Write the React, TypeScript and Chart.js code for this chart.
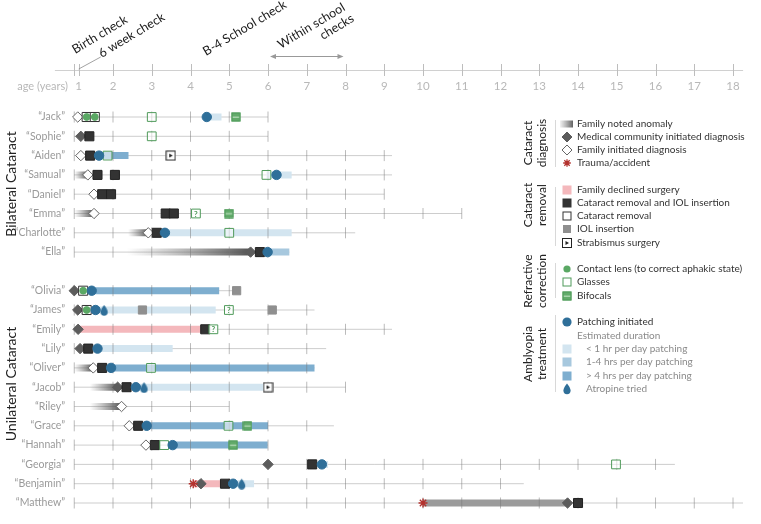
import React, { useEffect, useRef } from 'react';
import { Chart, registerables } from 'chart.js';

Chart.register(...registerables);

const FONT = 'Lato, "Open Sans", "DejaVu Sans", sans-serif';

// ---------------- categories ----------------
const bilateralNames = ['Jack', 'Sophie', 'Aiden', 'Samual', 'Daniel', 'Emma', 'Charlotte', 'Ella'];
const unilateralNames = ['Olivia', 'James', 'Emily', 'Lily', 'Oliver', 'Jacob', 'Riley', 'Grace', 'Hannah', 'Georgia', 'Benjamin', 'Matthew'];
// age (years) at which each child's follow-up line ends
const bilateralFollowUpEnd = [6, 6, 9.2, 9.2, 9, 11, 8.25, 6.55];
const unilateralFollowUpEnd = [5.3, 7.2, 9.2, 7.5, 7.2, 8, 5, 7.7, 6, 16.5, 12.6, 18.26];
const ageTicks = [1, 2, 3, 4, 5, 6, 7, 8, 9, 10, 11, 12, 13, 14, 15, 16, 17, 18];
const sixWeekCheckAge = 1.115;
const schoolChecksRange = [6, 8];

// ---------------- events: [child, age] or [child, startAge, endAge] ----------------
const familyNotedAnomaly: [string, number, number][] = [
  ['Samual', 1.0, 1.35], ['Emma', 1.0, 1.5], ['Charlotte', 2.39, 2.91], ['Ella', 2.36, 5.55],
  ['Oliver', 1.0, 1.49], ['Jacob', 1.4, 2.12], ['Riley', 1.4, 2.22],
];
const medicalDiagnosis: [string, number][] = [
  ['Sophie', 1.17], ['Ella', 5.55], ['Olivia', 1.0], ['James', 1.09], ['Emily', 1.1], ['Lily', 1.15],
  ['Jacob', 2.12], ['Georgia', 6.0], ['Benjamin', 4.27], ['Matthew', 13.73],
];
const familyDiagnosis: [string, number][] = [
  ['Jack', 1.09], ['Aiden', 1.17], ['Samual', 1.35], ['Daniel', 1.51], ['Emma', 1.51], ['Charlotte', 2.91],
  ['Oliver', 1.49], ['Riley', 2.22], ['Grace', 2.42], ['Hannah', 2.85],
];
const traumaAccident: [string, number][] = [['Benjamin', 4.07], ['Matthew', 10.0]];
const untreatedPeriod: [string, number, number][] = [['Matthew', 10.0, 13.73]];
const familyDeclinedSurgery: [string, number, number][] = [['Emily', 1.1, 4.3], ['Benjamin', 4.07, 4.89]];
const removalWithIOL: [string, number][] = [
  ['Sophie', 1.39], ['Aiden', 1.41], ['Samual', 1.6], ['Samual', 2.05], ['Daniel', 1.72], ['Daniel', 1.95],
  ['Emma', 3.36], ['Emma', 3.57], ['Charlotte', 3.13], ['Ella', 5.79], ['Emily', 4.38], ['Lily', 1.36],
  ['Oliver', 1.72], ['Jacob', 2.35], ['Grace', 2.65], ['Hannah', 3.08], ['Georgia', 7.14], ['Benjamin', 4.89],
  ['Matthew', 14.0],
];
const cataractRemoval: [string, number][] = [['Jack', 1.32], ['Jack', 1.53], ['Olivia', 1.23], ['James', 1.32]];
const iolInsertion: [string, number][] = [['Olivia', 5.19], ['James', 2.76], ['James', 6.11]];
const strabismusSurgery: [string, number][] = [['Aiden', 3.49], ['Jacob', 6.0]];
const contactLens: [string, number][] = [['Jack', 1.32], ['Jack', 1.53], ['Olivia', 1.23], ['James', 1.32]];
const glasses: [string, number][] = [
  ['Jack', 3.0], ['Sophie', 3.0], ['Aiden', 1.86], ['Samual', 5.96], ['Charlotte', 5.0], ['Oliver', 2.98],
  ['Grace', 4.98], ['Hannah', 3.32], ['Georgia', 14.98],
];
const glassesUncertain: [string, number][] = [['Emma', 4.14], ['James', 4.99], ['Emily', 4.59]];
const bifocals: [string, number][] = [['Jack', 5.17], ['Emma', 4.99], ['Grace', 5.47], ['Hannah', 5.1]];
const patchingInitiated: [string, number][] = [
  ['Jack', 4.42], ['Aiden', 1.64], ['Samual', 6.22], ['Charlotte', 3.34], ['Ella', 5.99], ['Olivia', 1.45],
  ['James', 1.55], ['Lily', 1.6], ['Oliver', 1.95], ['Jacob', 2.59], ['Grace', 2.87], ['Hannah', 3.54],
  ['Georgia', 7.39], ['Benjamin', 5.1],
];
const atropineTried: [string, number][] = [['James', 1.77], ['Jacob', 2.8], ['Benjamin', 5.32]];
const patchingUnder1h: [string, number, number][] = [
  ['Jack', 4.42, 4.8], ['Samual', 5.96, 6.61], ['Charlotte', 3.34, 6.61], ['James', 1.55, 4.65],
  ['Lily', 1.6, 3.54], ['Jacob', 2.59, 6.0], ['Georgia', 7.39, 7.55], ['Benjamin', 5.1, 5.64],
];
const patching1to4h: [string, number, number][] = [['Ella', 5.99, 6.55]];
const patchingOver4h: [string, number, number][] = [
  ['Aiden', 1.64, 2.4], ['Olivia', 1.45, 4.74], ['Oliver', 1.95, 7.2], ['Grace', 2.87, 6.0], ['Hannah', 3.54, 5.99],
];

// ---------------- legend texts ----------------
const legendTitles = [['Cataract', 'diagnosis'], ['Cataract', 'removal'], ['Refractive', 'correction'], ['Amblyopia', 'treatment']];
const legendItems = [
  ['Family noted anomaly', 'Medical community initiated diagnosis', 'Family initiated diagnosis', 'Trauma/accident'],
  ['Family declined surgery', 'Cataract removal and IOL insertion', 'Cataract removal', 'IOL insertion', 'Strabismus surgery'],
  ['Contact lens (to correct aphakic state)', 'Glasses', 'Bifocals'],
  ['Patching initiated', 'Estimated duration', '< 1 hr per day patching', '1-4 hrs per day patching', '> 4 hrs per day patching', 'Atropine tried'],
];

// ---------------- colours ----------------
const C = {
  row: 'rgba(136,136,136,0.42)',
  tick: 'rgba(120,120,120,0.5)',
  dark: '#333333',
  diamond: '#5c5c5c',
  blue: '#2f6f99',
  light: '#d3e5f0',
  medium: '#a7c8de',
  deep: '#7eaecf',
  pink: '#f4b8bc',
  green: '#5aa864',
  greenStroke: '#4f9a5a',
  iol: '#8f8f8f',
  red: '#b3322e',
  untreated: '#9b9b9b',
};

const slotOf = (n: string) => {
  const b = bilateralNames.indexOf(n);
  return b >= 0 ? b : bilateralNames.length + 1 + unilateralNames.indexOf(n);
};
const pts = (list: [string, number][]) => list.map(([n, a]) => ({ x: a, y: slotOf(n) }));
const segs = (list: [string, number, number][]) =>
  list.flatMap(([n, s, e]) => [{ x: s, y: slotOf(n) }, { x: e, y: slotOf(n) }, { x: e, y: NaN }]);

function makeCanvas(w: number, h: number, draw: (c: CanvasRenderingContext2D) => void) {
  const cv = document.createElement('canvas');
  cv.width = w;
  cv.height = h;
  const c = cv.getContext('2d')!;
  draw(c);
  return cv;
}
function dropPath(c: CanvasRenderingContext2D, x: number, y: number) {
  c.beginPath();
  c.moveTo(x, y - 5.5);
  c.quadraticCurveTo(x + 3.6, y - 1, x + 3.6, y + 1.6);
  c.arc(x, y + 1.6, 3.6, 0, Math.PI);
  c.quadraticCurveTo(x - 3.6, y - 1, x, y - 5.5);
  c.closePath();
}
function strabPath(c: CanvasRenderingContext2D, x: number, y: number) {
  c.fillStyle = '#fff';
  c.fillRect(x - 5, y - 5, 10, 10);
  c.strokeStyle = '#222';
  c.lineWidth = 1;
  c.strokeRect(x - 4.5, y - 4.5, 9, 9);
  c.fillStyle = '#222';
  c.beginPath();
  c.moveTo(x - 1.5, y - 2);
  c.lineTo(x + 2, y);
  c.lineTo(x - 1.5, y + 2);
  c.closePath();
  c.fill();
}
function bifocalPath(c: CanvasRenderingContext2D, x: number, y: number) {
  c.fillStyle = '#63ab6b';
  c.fillRect(x - 4.5, y - 4.5, 9, 9);
  c.fillStyle = '#a8d3ab';
  c.fillRect(x - 3.5, y - 0.5, 7, 1.5);
  c.strokeStyle = C.greenStroke;
  c.lineWidth = 1;
  c.strokeRect(x - 4, y - 4, 8, 8);
}

const overlayPlugin = {
  id: 'overlay',
  afterDatasetsDraw(chart: any) {
    const ctx = chart.ctx;
    chart.data.datasets.forEach((ds: any, i: number) => {
      if (!ds.questionMark) return;
      const meta = chart.getDatasetMeta(i);
      ctx.save();
      ctx.fillStyle = C.greenStroke;
      ctx.font = `bold 8px ${FONT}`;
      ctx.textAlign = 'center';
      ctx.textBaseline = 'middle';
      meta.data.forEach((p: any) => ctx.fillText('?', p.x, p.y + 0.5));
      ctx.restore();
    });
  },
  afterDraw(chart: any) {
    const ctx: CanvasRenderingContext2D = chart.ctx;
    const xs = chart.scales.x;
    const ys = chart.scales.y;
    const area = chart.chartArea;
    ctx.save();

    // ---- top age axis ----
    const axisY = 70;
    ctx.strokeStyle = '#d0d0d0';
    ctx.lineWidth = 1;
    ctx.beginPath();
    ctx.moveTo(area.left, axisY + 0.5);
    ctx.lineTo(area.right, axisY + 0.5);
    ctx.stroke();
    ctx.strokeStyle = '#bdbdbd';
    ctx.beginPath();
    [...ageTicks, sixWeekCheckAge].forEach((a) => {
      const px = Math.round(xs.getPixelForValue(a)) + 0.5;
      ctx.moveTo(px, axisY - 6);
      ctx.lineTo(px, axisY + 6);
    });
    ctx.stroke();
    ctx.fillStyle = '#b8b8b8';
    ctx.font = `11.5px ${FONT}`;
    ctx.textAlign = 'center';
    ctx.textBaseline = 'middle';
    ageTicks.forEach((a) => {
      const px = xs.getPixelForValue(a === 1 ? sixWeekCheckAge : a);
      ctx.fillText(String(a), px, 86);
    });
    ctx.textAlign = 'right';
    ctx.font = `11px ${FONT}`;
    ctx.fillText('age (years)', 68, 86);

    // ---- check annotations ----
    const ang = (-31 * Math.PI) / 180;
    ctx.fillStyle = '#1a1a1a';
    ctx.font = `12.5px ${FONT}`;
    ctx.textAlign = 'left';
    ctx.textBaseline = 'alphabetic';
    const rotText = (t: string, x: number, y: number) => {
      ctx.save();
      ctx.translate(x, y);
      ctx.rotate(ang);
      ctx.fillText(t, 0, 0);
      ctx.restore();
    };
    rotText('Birth check', xs.getPixelForValue(1) + 1, 54);
    rotText('6 week check', xs.getPixelForValue(sixWeekCheckAge) + 23, 58);
    rotText('B-4 School check', xs.getPixelForValue(4.4), 56);
    ctx.save();
    ctx.translate(xs.getPixelForValue(6.33), 49);
    ctx.rotate(ang);
    const w1 = ctx.measureText('Within school').width;
    ctx.fillText('Within school', 0, 0);
    ctx.textAlign = 'right';
    ctx.fillText('checks', w1 + 2, 14);
    ctx.restore();
    // leader from six-week tick
    ctx.strokeStyle = '#8a8a8a';
    ctx.lineWidth = 0.8;
    ctx.beginPath();
    ctx.moveTo(xs.getPixelForValue(sixWeekCheckAge), axisY - 1);
    ctx.lineTo(xs.getPixelForValue(sixWeekCheckAge) + 22, 57);
    ctx.stroke();
    // school checks arrow
    const ax1 = xs.getPixelForValue(schoolChecksRange[0]) + 2;
    const ax2 = xs.getPixelForValue(schoolChecksRange[1]) - 2;
    const ay = 56.5;
    ctx.strokeStyle = '#999';
    ctx.fillStyle = '#999';
    ctx.lineWidth = 1;
    ctx.beginPath();
    ctx.moveTo(ax1 + 3, ay);
    ctx.lineTo(ax2 - 3, ay);
    ctx.stroke();
    ctx.beginPath();
    ctx.moveTo(ax1, ay);
    ctx.lineTo(ax1 + 6, ay - 2.5);
    ctx.lineTo(ax1 + 6, ay + 2.5);
    ctx.closePath();
    ctx.moveTo(ax2, ay);
    ctx.lineTo(ax2 - 6, ay - 2.5);
    ctx.lineTo(ax2 - 6, ay + 2.5);
    ctx.closePath();
    ctx.fill();

    // ---- row names ----
    ctx.fillStyle = '#9a9a9a';
    ctx.font = `10.5px ${FONT}`;
    ctx.textAlign = 'right';
    ctx.textBaseline = 'middle';
    [...bilateralNames, ...unilateralNames].forEach((n) => {
      ctx.fillText(`\u201C${n}\u201D`, 65, ys.getPixelForValue(slotOf(n)));
    });

    // ---- group labels ----
    ctx.fillStyle = '#222';
    ctx.font = `14px ${FONT}`;
    ctx.textAlign = 'center';
    const vText = (t: string, x: number, y: number) => {
      ctx.save();
      ctx.translate(x, y);
      ctx.rotate(-Math.PI / 2);
      ctx.fillText(t, 0, 0);
      ctx.restore();
    };
    vText('Bilateral Cataract', 11, 184);
    vText('Unilateral Cataract', 11, 384);

    // ---- legend ----
    const groupsLayout = [
      { ty: 143, sep: [120, 167], ys: [124, 137, 150, 163] },
      { ty: 205, sep: [187, 246], ys: [190, 203, 216, 229, 243] },
      { ty: 281, sep: [263, 298], ys: [269, 282, 296] },
      { ty: 354, sep: [315, 392], ys: [322, 336, 349, 362, 376, 389] },
    ];
    const iconX = 567;
    groupsLayout.forEach((g, gi) => {
      ctx.fillStyle = '#222';
      ctx.font = `12px ${FONT}`;
      ctx.textAlign = 'center';
      ctx.textBaseline = 'middle';
      vText(legendTitles[gi][0], 528, g.ty);
      vText(legendTitles[gi][1], 542, g.ty);
      ctx.strokeStyle = '#d8d8d8';
      ctx.lineWidth = 1;
      ctx.beginPath();
      ctx.moveTo(555.5, g.sep[0]);
      ctx.lineTo(555.5, g.sep[1]);
      ctx.stroke();
      g.ys.forEach((y, ii) => {
        const label = legendItems[gi][ii];
        const sub = gi === 3 && ii >= 2;
        ctx.fillStyle = gi === 3 && ii > 0 ? '#8a8a8a' : '#333';
        ctx.font = `10px ${FONT}`;
        ctx.textAlign = 'left';
        ctx.textBaseline = 'middle';
        ctx.fillText(label, sub ? 586 : 577, y);
        drawLegendIcon(ctx, `${gi}-${ii}`, iconX, y);
      });
    });
    ctx.restore();
  },
};

function drawLegendIcon(ctx: CanvasRenderingContext2D, key: string, x: number, y: number) {
  ctx.save();
  const sq = (fill: string | null, stroke: string | null, s = 8) => {
    if (fill) {
      ctx.fillStyle = fill;
      ctx.fillRect(x - s / 2, y - s / 2, s, s);
    }
    if (stroke) {
      ctx.strokeStyle = stroke;
      ctx.lineWidth = 1;
      ctx.strokeRect(x - s / 2 + 0.5, y - s / 2 + 0.5, s - 1, s - 1);
    }
  };
  const dia = (fill: string, stroke: string) => {
    ctx.beginPath();
    ctx.moveTo(x - 5, y);
    ctx.lineTo(x, y - 5);
    ctx.lineTo(x + 5, y);
    ctx.lineTo(x, y + 5);
    ctx.closePath();
    ctx.fillStyle = fill;
    ctx.fill();
    ctx.strokeStyle = stroke;
    ctx.lineWidth = 1;
    ctx.stroke();
  };
  switch (key) {
    case '0-0': {
      const g = ctx.createLinearGradient(x - 7, 0, x + 6, 0);
      g.addColorStop(0, 'rgba(120,120,120,0.1)');
      g.addColorStop(1, 'rgba(90,90,90,0.95)');
      ctx.fillStyle = g;
      ctx.fillRect(x - 7, y - 3.5, 13, 7);
      break;
    }
    case '0-1': dia(C.diamond, C.diamond); break;
    case '0-2': dia('#fff', '#666'); break;
    case '0-3': {
      ctx.strokeStyle = C.red;
      ctx.lineWidth = 1.3;
      ctx.beginPath();
      for (let k = 0; k < 4; k++) {
        const a = (k * Math.PI) / 4;
        ctx.moveTo(x - 3.8 * Math.cos(a), y - 3.8 * Math.sin(a));
        ctx.lineTo(x + 3.8 * Math.cos(a), y + 3.8 * Math.sin(a));
      }
      ctx.stroke();
      break;
    }
    case '1-0': sq(C.pink, null, 9); break;
    case '1-1': sq(C.dark, null, 9); break;
    case '1-2': sq('#fff', '#333', 9); break;
    case '1-3': sq(C.iol, null, 8); break;
    case '1-4': strabPath(ctx, x, y); break;
    case '2-0':
      ctx.fillStyle = C.green;
      ctx.beginPath();
      ctx.arc(x, y, 3.6, 0, Math.PI * 2);
      ctx.fill();
      break;
    case '2-1': sq('#fff', C.greenStroke, 9); break;
    case '2-2': bifocalPath(ctx, x, y); break;
    case '3-0':
      ctx.fillStyle = C.blue;
      ctx.beginPath();
      ctx.arc(x, y, 4.6, 0, Math.PI * 2);
      ctx.fill();
      break;
    case '3-2': sq(C.light, null, 9); break;
    case '3-3': sq(C.medium, null, 9); break;
    case '3-4': sq(C.deep, null, 9); break;
    case '3-5':
      ctx.fillStyle = C.blue;
      dropPath(ctx, x, y);
      ctx.fill();
      break;
    default: break;
  }
  ctx.restore();
}

export default function App() {
  const ref = useRef<HTMLCanvasElement | null>(null);

  useEffect(() => {
    if (!ref.current) return;
    const dropImg = makeCanvas(9, 12, (c) => { c.fillStyle = C.blue; dropPath(c, 4.5, 6.5); c.fill(); });
    const strabImg = makeCanvas(11, 11, (c) => strabPath(c, 5.5, 5.5));
    const bifocalImg = makeCanvas(10, 10, (c) => bifocalPath(c, 5, 5));

    const allNames = [...bilateralNames, ...unilateralNames];
    const allEnds = [...bilateralFollowUpEnd, ...unilateralFollowUpEnd];
    const rowLineData = allNames.flatMap((n, i) => [
      { x: 1, y: slotOf(n) }, { x: allEnds[i], y: slotOf(n) }, { x: allEnds[i], y: NaN },
    ]);
    const rowTickData = allNames.flatMap((n, i) =>
      ageTicks.filter((a) => a <= allEnds[i] + 1e-6).map((a) => ({ x: a, y: slotOf(n) })));

    const bar = (label: string, data: any[], color: any, order = 90) => ({
      label, data, showLine: true, borderColor: color, borderWidth: 7, borderCapStyle: 'butt',
      pointRadius: 0, pointHoverRadius: 0, tension: 0, order, spanGaps: false,
    });
    const gradientBars = familyNotedAnomaly.map(([n, s, e]) =>
      bar(`Family noted anomaly ${n}`, [{ x: s, y: slotOf(n) }, { x: e, y: slotOf(n) }], (c: any) => {
        const sc = c.chart.scales && c.chart.scales.x;
        if (!sc) return '#888';
        const p1 = sc.getPixelForValue(s);
        const p2 = sc.getPixelForValue(e);
        if (!isFinite(p1) || !isFinite(p2) || p1 === p2) return 'rgba(90,90,90,0.6)';
        const g = c.chart.ctx.createLinearGradient(p1, 0, p2, 0);
        g.addColorStop(0, 'rgba(110,110,110,0)');
        g.addColorStop(1, 'rgba(75,75,75,0.95)');
        return g;
      }, 89));

    const marker = (label: string, data: any[], style: any, radius: number, bg: string, border: string, bw = 1, order = 10) => ({
      label, data, showLine: false, pointStyle: style, pointRadius: radius, pointHoverRadius: radius,
      pointBackgroundColor: bg, pointBorderColor: border, pointBorderWidth: bw, order,
    });

    const chart = new Chart(ref.current, {
      type: 'scatter',
      data: {
        datasets: [
          { label: 'rows', data: rowLineData, showLine: true, borderColor: C.row, borderWidth: 1, pointRadius: 0, order: 100, spanGaps: false } as any,
          { label: 'row ticks', data: rowTickData, showLine: false, pointStyle: 'line', rotation: 90, pointRadius: 5.5, pointBorderColor: C.tick, pointBorderWidth: 1, order: 80 } as any,
          bar('Untreated period', segs(untreatedPeriod), C.untreated),
          bar('Family declined surgery', segs(familyDeclinedSurgery), C.pink),
          bar('< 1 hr per day patching', segs(patchingUnder1h), C.light),
          bar('1-4 hrs per day patching', segs(patching1to4h), C.medium),
          bar('> 4 hrs per day patching', segs(patchingOver4h), C.deep),
          ...gradientBars,
          marker('Trauma/accident', pts(traumaAccident), 'star', 4.5, C.red, C.red, 1.4, 12),
          marker('Medical community initiated diagnosis', pts(medicalDiagnosis), 'rectRot', 5.2, C.diamond, C.diamond, 1, 12),
          marker('Family initiated diagnosis', pts(familyDiagnosis), 'rectRot', 5.2, '#ffffff', '#666666', 1, 12),
          marker('Cataract removal and IOL insertion', pts(removalWithIOL), 'rect', 6.4, C.dark, '#222', 1, 11),
          marker('Cataract removal', pts(cataractRemoval), 'rect', 6.4, '#ffffff', '#333', 1, 11),
          marker('IOL insertion', pts(iolInsertion), 'rect', 5.8, C.iol, C.iol, 1, 11),
          marker('Strabismus surgery', pts(strabismusSurgery), strabImg, 5, '#fff', '#222', 1, 11),
          marker('Glasses', pts(glasses), 'rect', 6.2, 'rgba(255,255,255,0.55)', C.greenStroke, 1, 9),
          { ...marker('Glasses (uncertain)', pts(glassesUncertain), 'rect', 6.2, 'rgba(255,255,255,0.8)', C.greenStroke, 1, 9), questionMark: true } as any,
          marker('Bifocals', pts(bifocals), bifocalImg, 5, C.green, C.green, 1, 9),
          marker('Contact lens', pts(contactLens), 'circle', 3.4, C.green, C.green, 1, 5),
          marker('Patching initiated', pts(patchingInitiated), 'circle', 4.7, C.blue, C.blue, 1, 8),
          marker('Atropine tried', pts(atropineTried), dropImg, 5, C.blue, C.blue, 1, 8),
        ] as any,
      },
      options: {
        responsive: false,
        maintainAspectRatio: false,
        devicePixelRatio: 1,
        animation: false,
        events: [],
        layout: { padding: { left: 54.875, right: 17.9, top: 88.05, bottom: 11.35 } },
        scales: {
          x: { type: 'linear', min: 0.5, max: 18.26, display: false },
          y: { type: 'linear', min: -1.5, max: 20.5, reverse: true, display: false },
        },
        plugins: { legend: { display: false }, tooltip: { enabled: false } },
      } as any,
      plugins: [overlayPlugin as any],
    });
    return () => chart.destroy();
  }, []);

  return (
    <div style={{ position: 'fixed', left: 0, top: 0, width: 761, height: 524, background: '#fff' }}>
      <canvas ref={ref} width={761} height={524} style={{ display: 'block' }} />
    </div>
  );
}
